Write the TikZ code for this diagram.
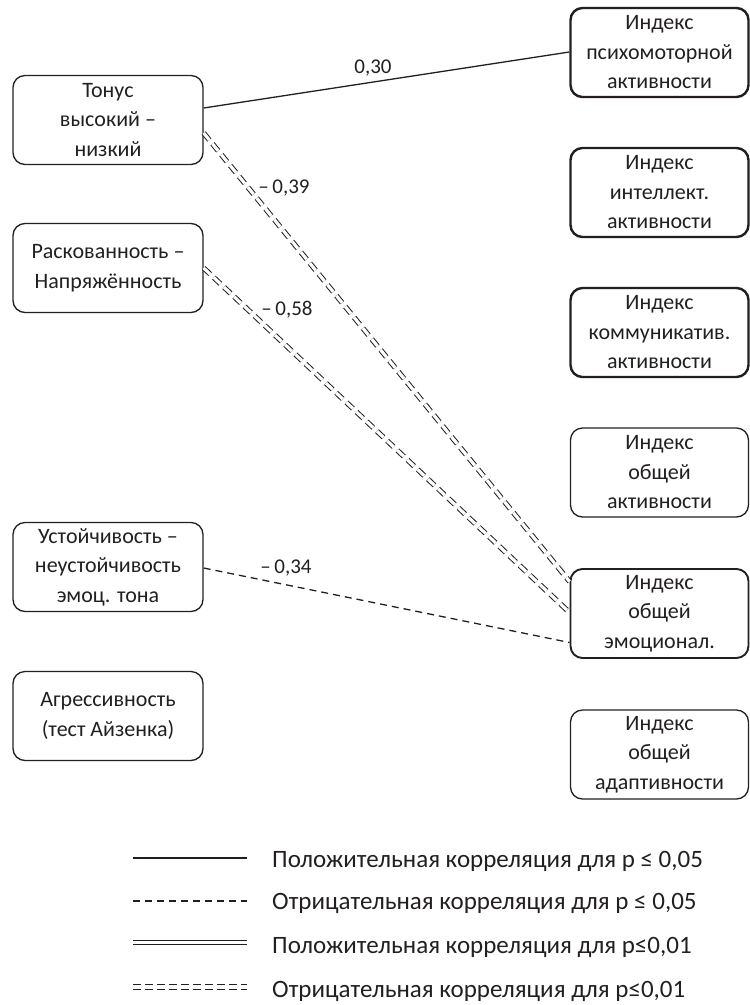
\documentclass[tikz,border=0pt]{standalone}
\usepackage{fontspec}
\setmainfont{Carlito}
\usetikzlibrary{calc}
\definecolor{ink}{HTML}{231F20}
\tikzset{
  box/.style={draw=ink, rounded corners=12pt, minimum height=89pt, align=center,
    font=\fontsize{22}{29.5}\selectfont, inner sep=0pt, text=ink, line width=1.3pt},
  lbox/.style={box, minimum width=190pt},
  rbox/.style={box, minimum width=178pt},
  heavy/.style={line width=2.4pt},
  mid/.style={line width=1.9pt},
  lab/.style={font=\fontsize{21}{24}\selectfont, text=ink, inner sep=0pt},
  leg/.style={font=\fontsize{25}{28}\selectfont, text=ink, inner sep=0pt, anchor=west},
  pos05/.style={draw=ink, line width=1.3pt},
  neg05/.style={draw=ink, line width=1.3pt, dash pattern=on 7pt off 5pt},
  pos01/.style={draw=ink, line width=1pt, double=white, double distance=2.6pt},
  neg01/.style={draw=ink, line width=1pt, double=white, double distance=3.2pt, dash pattern=on 9pt off 5pt},
}
\begin{document}
\begin{tikzpicture}[x=1pt,y=-1pt]
\useasboundingbox (0,0) rectangle (750,1005);
% left boxes
\node[lbox] (ton)  at (108,120) {Тонус\\высокий –\\низкий};
\node[lbox] (rask) at (108,268) {Раскованность –\\Напряжённость};
\node[lbox] (ust)  at (108,567) {Устойчивость –\\неустойчивость\\эмоц. тона};
\node[lbox] (agr)  at (108,716) {Агрессивность\\(тест Айзенка)};
% right boxes
\node[rbox,heavy] (psy) at (659.5,52.5) {Индекс\\психомоторной\\активности};
\node[rbox,heavy] (int) at (659.5,192.5) {Индекс\\интеллект.\\активности};
\node[rbox,heavy] (com) at (659.5,332.5) {Индекс\\коммуникатив.\\активности};
\node[rbox] (gen) at (659.5,472.5) {Индекс\\общей\\активности};
\node[rbox,mid] (emo) at (659.5,613.5) {Индекс\\общей\\эмоционал.};
\node[rbox] (ada) at (659.5,754.5) {Индекс\\общей\\адаптивности};
% connectors
\draw[pos05] ([yshift=12pt]ton.east) -- ([yshift=0.5pt]psy.west);
\draw[neg01] ([yshift=-13pt]ton.east) -- ([yshift=32pt]emo.west);
\draw[neg01] (rask.east) -- ([yshift=1pt]emo.west);
\draw[neg05] ([yshift=-1pt]ust.east) -- ([yshift=-29pt]emo.west);
% labels
\node[lab] (l30) at (373,68) {0,30};
\node[lab] (l39) at (284,188) {–\,0,39};
\node[lab] (l58) at (287,310) {–\,0,58};
\node[lab] (l34) at (286,568) {–\,0,34};
% legend
\coordinate (a1) at (133,858); \coordinate (b1) at (247,858);
\coordinate (a2) at (133,901); \coordinate (b2) at (247,901);
\coordinate (a3) at (133,942.5); \coordinate (b3) at (247,942.5);
\coordinate (a4) at (133,987); \coordinate (b4) at (247,987);
\draw[pos05] (a1) -- (b1);
\draw[neg05] (a2) -- (b2);
\draw[pos01] (a3) -- (b3);
\draw[neg01, dash pattern=on 8pt off 4pt] (a4) -- (b4);
\node[leg] (t1) at (272,861) {Положительная корреляция для p ≤ 0,05};
\node[leg] (t2) at (272,903) {Отрицательная корреляция для p ≤ 0,05};
\node[leg] (t3) at (272,947) {Положительная корреляция для p≤0,01};
\node[leg] (t4) at (272,991) {Отрицательная корреляция для p≤0,01};
\end{tikzpicture}
\end{document}
